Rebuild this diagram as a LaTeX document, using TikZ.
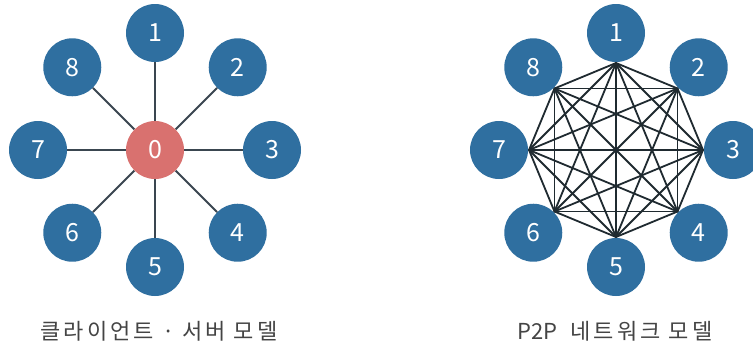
\documentclass[tikz,border=0pt]{standalone}
\usepackage{fontspec}
\setmainfont{Noto Sans CJK KR}
\newfontfamily\capfont[LetterSpace=14]{Noto Sans CJK KR}
\newfontfamily\plainfont{Noto Sans CJK KR}
\usetikzlibrary{backgrounds}
\definecolor{nodeblue}{HTML}{2F6FA0}
\definecolor{serverred}{HTML}{D9716F}
\definecolor{linegray}{HTML}{3A4650}
\definecolor{meshdark}{HTML}{1F2A30}
\definecolor{textgray}{HTML}{444444}
\begin{document}
\begin{tikzpicture}[x=1pt,y=-1pt,
  peer/.style={circle,fill=nodeblue,minimum size=58pt,inner sep=0pt,text=white,font=\fontsize{25}{25}\selectfont},
  server/.style={peer,fill=serverred},
  link/.style={draw=linegray,line width=2pt},
  mesh/.style={draw=meshdark,line width=1.8pt},
  caption/.style={text=textgray,font=\capfont\fontsize{22}{22}\selectfont}]
\useasboundingbox (0,0) rectangle (753,349);
% client-server
\node[server] (C0) at (155,150) {0};
\foreach \k in {1,...,8} {
  \pgfmathsetmacro\ang{45*(\k-1)}
  \node[peer] (L\k) at ({155+117*sin(\ang)},{150-117*cos(\ang)}) {\k};
  \draw[link] (C0) -- (L\k);
}
% p2p
\foreach \k in {1,...,8} {
  \pgfmathsetmacro\ang{45*(\k-1)}
  \node[peer] (R\k) at ({616+117*sin(\ang)},{150-117*cos(\ang)}) {\k};
  \coordinate (P\k) at ({616+87*sin(\ang)},{150-87*cos(\ang)});
}
\begin{scope}[on background layer]
\fill[white] (0,0) rectangle (753,349);
\foreach \i in {1,...,8} {
  \foreach \j in {1,...,8} {
    \ifnum\i<\j \draw[mesh,line cap=round] (P\i) -- (P\j); \fi
  }
}
\end{scope}
\node[caption] (capL) at (159,331) {클라이언트 · 서버 모델};
\node[caption] (capR) at (615,331) {{\plainfont P2P}\hspace{5pt} 네트워크 모델};
\end{tikzpicture}
\end{document}
